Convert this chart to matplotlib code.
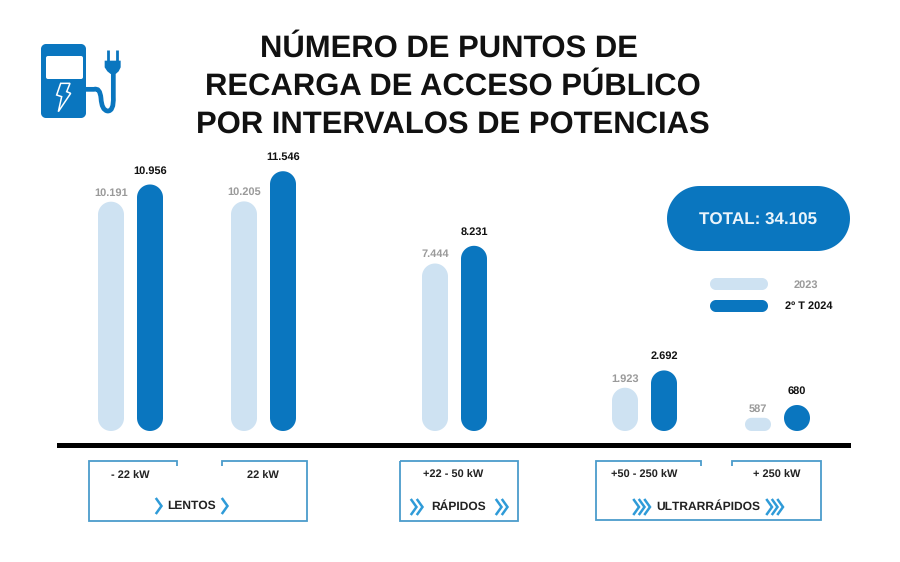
import numpy as np
import matplotlib
matplotlib.use("Agg")
import matplotlib.pyplot as plt
from matplotlib.patches import Rectangle, Polygon, PathPatch
from matplotlib.path import Path
from matplotlib.lines import Line2D

plt.rcParams['font.family'] = ['Liberation Sans', 'DejaVu Sans']
plt.rcParams['text.hinting'] = 'no_hinting'
plt.rcParams['text.hinting_factor'] = 1

title_lines = ["NÚMERO DE PUNTOS DE", "RECARGA DE ACCESO PÚBLICO", "POR INTERVALOS DE POTENCIAS"]
categories = ["- 22 kW", "22 kW", "+22 - 50 kW", "+50 - 250 kW", "+ 250 kW"]
values_2023 = [10191, 10205, 7444, 1923, 587]
values_2024 = [10956, 11546, 8231, 2692, 680]
labels_2023 = ["10.191", "10.205", "7.444", "1.923", "587"]
labels_2024 = ["10.956", "11.546", "8.231", "2.692", "680"]
series_names = ["2023", "2º T 2024"]
total_label = "TOTAL: 34.105"
groups = ["LENTOS", "RÁPIDOS", "ULTRARRÁPIDOS"]

W, H = 900, 562
BASE = 431
PX_PER_UNIT = 0.0225
BLUE = "#0A76BF"
LIGHT = "#CEE2F2"
GREY = "#9A9A9A"
FRAME = "#4B9CCB"
CHEV = "#2F9BD8"
BW = 26
centers_2023 = [111, 244, 435, 625, 758]
centers_2024 = [150, 283, 474, 664, 797]

fig = plt.figure(figsize=(W / 100, H / 100), dpi=100, facecolor="white")

ax = fig.add_axes([0, 0, 1, 1], facecolor="none")
ax.set_xlim(0, W)
ax.set_ylim(-(H - BASE) / PX_PER_UNIT, BASE / PX_PER_UNIT)
ax.axis("off")

ov = fig.add_axes([0, 0, 1, 1], facecolor="none")
ov.set_xlim(0, W)
ov.set_ylim(H, 0)
ov.axis("off")


def round_rect(x0, x1, y0, y1, r, yscale=1.0, n=24):
    """Rounded rectangle with true circular corners; r is in x units, y is scaled by yscale."""
    ry = r * yscale
    t = np.linspace(0, np.pi / 2, n)
    xs = np.r_[x1 - r + r * np.cos(t), x0 + r - r * np.sin(t),
               x0 + r - r * np.cos(t), x1 - r + r * np.sin(t)]
    ys = np.r_[y1 - ry + ry * np.sin(t), y1 - ry + ry * np.cos(t),
               y0 + ry - ry * np.sin(t), y0 + ry - ry * np.cos(t)]
    return np.column_stack([xs, ys])


def rounded_bar(cx, value, color):
    h_px = value * PX_PER_UNIT
    if value == 680:  # the reference draws this small bar as a full circle
        h_px = BW
    r = min(BW, h_px) / 2
    top = h_px / PX_PER_UNIT
    ax.add_patch(Polygon(round_rect(cx - BW / 2, cx + BW / 2, 0, top, r, 1 / PX_PER_UNIT),
                         closed=True, fc=color, ec="none"))
    return top


for cx, v, lab in zip(centers_2023, values_2023, labels_2023):
    top = rounded_bar(cx, v, LIGHT)
    ax.annotate(lab, (cx, top), xytext=(0, 6.5), textcoords="offset points",
                ha="center", va="center", fontsize=8, fontweight="bold", color=GREY)
for cx, v, lab in zip(centers_2024, values_2024, labels_2024):
    top = rounded_bar(cx, v, BLUE)
    ax.annotate(lab, (cx, top), xytext=(0, 10), textcoords="offset points",
                ha="center", va="center", fontsize=8, fontweight="bold", color="#111111")

ov.add_patch(Rectangle((57, 443), 794, 5, fc="black", ec="none"))

for t, y, cx in zip(title_lines, [48.5, 86.5, 124.5], [449, 452.5, 453]):
    ov.text(cx, y, t, ha="center", va="center", fontsize=22, fontweight="bold", color="#111111")


def ov_round(x0, x1, y0, y1, r, color):
    ov.add_patch(Polygon(round_rect(x0, x1, y0, y1, r), closed=True, fc=color, ec="none"))


ov_round(667, 850, 186, 251, 32.5, BLUE)
ov.text(758, 220, total_label, ha="center", va="center", fontsize=12, fontweight="bold", color="#EAF4FB")

ov_round(710, 768, 278, 290, 6, LIGHT)
ov_round(710, 768, 300, 312, 6, BLUE)
ov.text(805.5, 285.5, series_names[0], ha="center", va="center", fontsize=8, fontweight="bold", color=GREY)
ov.text(809, 306.5, series_names[1], ha="center", va="center", fontsize=8, fontweight="bold", color="#111111")


def frame(x0, x1, y0, y1, gap=None):
    kw = dict(color=FRAME, lw=1.3, solid_joinstyle="miter", solid_capstyle="butt")
    if gap:
        ov.add_line(Line2D([gap[0], gap[0], x0, x0, x1, x1, gap[1], gap[1]],
                           [y0 + 5, y0, y0, y1, y1, y0, y0, y0 + 5], **kw))
    else:
        ov.add_line(Line2D([x0, x0, x1, x1, x0], [y0, y1, y1, y0, y0], **kw))


frame(89, 307, 461, 521, (177, 222))
frame(400, 518, 461, 521)
frame(596, 821, 461, 520, (701, 732))


def chevrons(cx, cy, n, h=7, w=5, step=5.5, lw=1.8):
    start = cx - (n - 1) * step / 2
    for i in range(n):
        x = start + i * step
        ov.add_line(Line2D([x - w / 2, x + w / 2, x - w / 2], [cy - h, cy, cy + h],
                           color=CHEV, lw=lw, solid_joinstyle="miter"))


for cx, t in zip([130, 263, 453, 644, 777], categories):
    ov.text(cx, 475, t, ha="center", va="center", fontsize=8, fontweight="bold", color="#222222")

for cx, t, y in zip([192, 459, 708], groups, [506, 507, 507]):
    ov.text(cx, y, t, ha="center", va="center", fontsize=8.3, fontweight="bold", color="#222222")

chevrons(159, 506, 1)
chevrons(225, 506, 1)
chevrons(417, 507, 2, step=6)
chevrons(502, 507, 2, step=6)
chevrons(642, 507, 3)
chevrons(775, 507, 3)


def ip(x, y):
    return (x / 3 + 20, y / 3 + 30)


ov_round(41, 86, 44, 118, 5, BLUE)
ov_round(46, 83, 56, 79, 2, "white")
bolt = [(122, 160), (150, 160), (140, 185), (152, 190), (115, 245), (125, 200), (110, 195)]
ov.add_patch(Polygon([ip(x, y) for x, y in bolt], closed=True, fc="none", ec="white", lw=1.1))
cable = Path([ip(198, 178), ip(222, 178), ip(240, 172), ip(243, 205), ip(245, 240), ip(262, 243),
              ip(282, 245), ip(280, 200), ip(280, 132)],
             [Path.MOVETO, Path.LINETO, Path.CURVE3, Path.CURVE3, Path.CURVE3, Path.CURVE3,
              Path.CURVE3, Path.CURVE3, Path.LINETO])
ov.add_patch(PathPatch(cable, fc="none", ec=BLUE, lw=3.4, capstyle="butt", joinstyle="round"))
plug = [(254, 92), (302, 92), (302, 112), (296, 124), (287, 132), (272, 132), (262, 124), (254, 112)]
ov.add_patch(Polygon([ip(x, y) for x, y in plug], closed=True, fc=BLUE, ec="none"))
for x in (264, 292):
    ov.add_line(Line2D([ip(x, 0)[0], ip(x, 0)[0]], [ip(0, 60)[1], ip(0, 92)[1]], color=BLUE, lw=2,
                       solid_capstyle="butt"))

fig.savefig("out.png", dpi=100, facecolor="white")
